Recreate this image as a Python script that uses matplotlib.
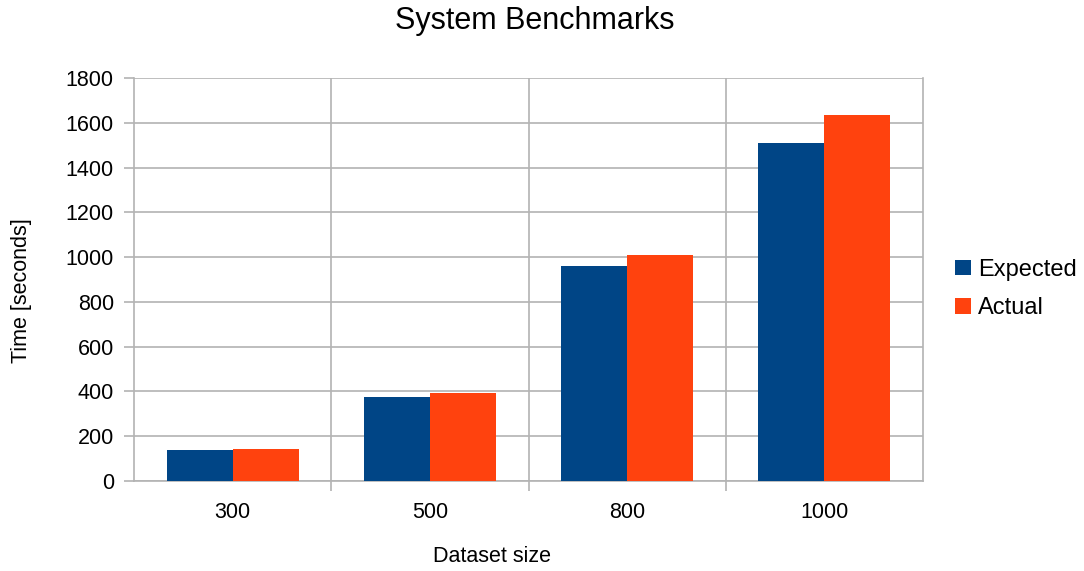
import matplotlib as mpl
mpl.use('Agg')
import matplotlib.pyplot as plt
import numpy as np
from matplotlib.ticker import FixedLocator

plt.rcParams['font.family'] = ['Liberation Sans', 'DejaVu Sans']

dataset_sizes = ['300', '500', '800', '1000']
expected = [138, 377, 960, 1508]
actual = [142, 393, 1010, 1636]

GRID = '#b3b3b3'
C_EXPECTED = '#004586'
C_ACTUAL = '#ff420e'

fig = plt.figure(figsize=(10.84, 5.71), dpi=100)
ax = fig.add_axes([134 / 1084, 1 - 481 / 571, (923 - 134) / 1084, (481 - 78) / 571])

x = np.arange(len(dataset_sizes))
w = 0.335
ax.bar(x - w / 2, expected, w, color=C_EXPECTED, label='Expected', zorder=3)
ax.bar(x + w / 2, actual, w, color=C_ACTUAL, label='Actual', zorder=3)

ax.set_xlim(-0.5, len(dataset_sizes) - 0.5)
ax.set_ylim(0, 1800)
ax.set_yticks(np.arange(0, 1801, 200))
ax.set_xticks(x)
ax.set_xticklabels(dataset_sizes)
ax.xaxis.set_minor_locator(FixedLocator(x[:-1] + 0.5))

ax.grid(axis='y', color=GRID, linewidth=1.2, zorder=0)
ax.grid(axis='x', which='minor', color=GRID, linewidth=1.2, zorder=0)
ax.tick_params(axis='x', which='major', length=0, pad=15, labelsize=15.5)
ax.tick_params(axis='x', which='minor', length=7.5, width=1.2, color=GRID)
ax.tick_params(axis='y', length=7, width=1.2, color=GRID, pad=7.5, labelsize=15.5)
for s in ax.spines.values():
    s.set_color(GRID)
    s.set_linewidth(1.2)
ax.spines['top'].set_visible(False)
ax.set_axisbelow(True)

fig.text(535 / 1084, 1 - 21 / 571, 'System Benchmarks', ha='center', va='center', fontsize=22)
fig.text(492 / 1084, 1 - 557 / 571, 'Dataset size', ha='center', va='center', fontsize=15.5)
fig.text(22 / 1084, 1 - 291 / 571, 'Time [seconds]', ha='center', va='center',
         rotation=90, fontsize=15.5)

fig.legend(loc='center left', bbox_to_anchor=(946 / 1084, 1 - 289 / 571), frameon=False,
           fontsize=17, handlelength=0.65, handleheight=0.65, handletextpad=0.3,
           labelspacing=0.7, borderaxespad=0)

fig.savefig('out.png', dpi=100)
plt.close()
